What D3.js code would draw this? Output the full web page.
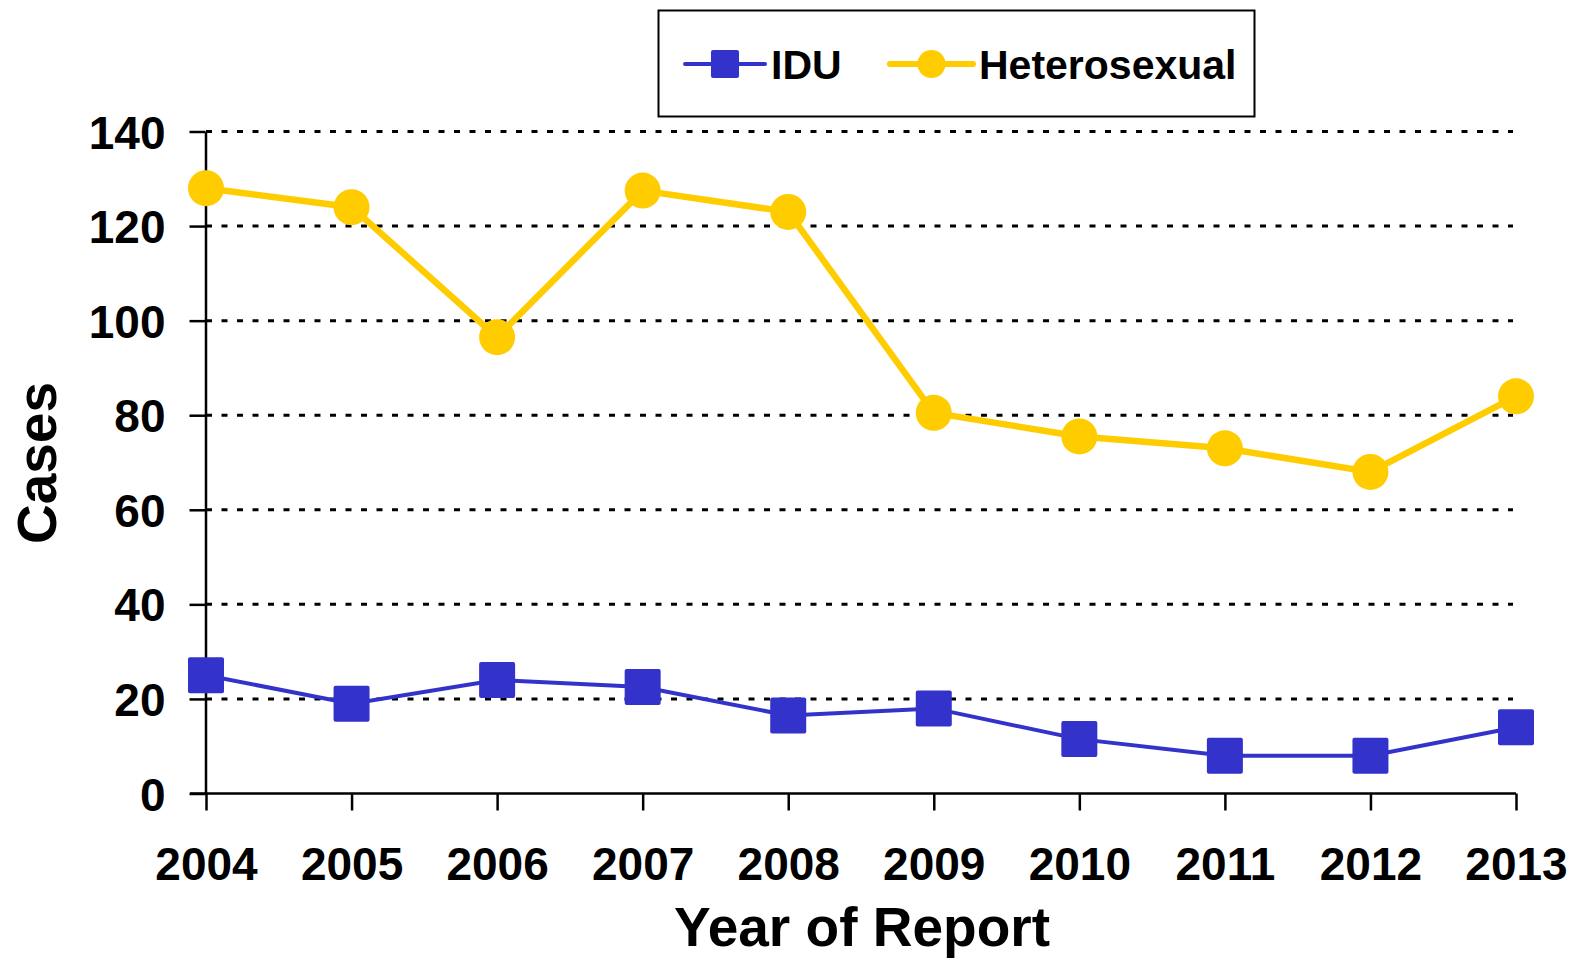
<!DOCTYPE html>
<html>
<head>
<meta charset="utf-8">
<script src="https://cdn.jsdelivr.net/npm/d3@7"></script>
<style>
  body { margin: 0; background: #fff; }
  svg { display: block; font-family: "Liberation Sans", Arial, sans-serif; font-weight: bold; }
</style>
</head>
<body>
<svg id="chart"></svg>
<script>
const years = [2004, 2005, 2006, 2007, 2008, 2009, 2010, 2011, 2012, 2013];
const idu = [25, 19, 24, 22.5, 16.5, 18, 11.5, 8, 8, 14];
const hetero = [128, 124, 96.5, 127.5, 123, 80.5, 75.5, 73, 68, 84];
const yTicks = [0, 20, 40, 60, 80, 100, 120, 140];

const WIDTH = 1572;
const HEIGHT = 964;

const svg = d3.select("#chart")
  .attr("width", WIDTH)
  .attr("height", HEIGHT);

const x = d3.scalePoint()
  .domain(years)
  .range([206, 1516]);

const y = d3.scaleLinear()
  .domain([0, 140])
  .range([793.5, 131.5]);

// dotted grid lines
svg.append("g")
  .selectAll("line")
  .data(yTicks.filter(d => d > 0))
  .enter()
  .append("line")
  .attr("x1", x(2004))
  .attr("x2", x(2013) - 3)
  .attr("y1", d => y(d))
  .attr("y2", d => y(d))
  .attr("stroke", "#000")
  .attr("stroke-width", 3)
  .attr("stroke-dasharray", "6,9.5");

// axes
const ejeX = d3.axisBottom(x).tickSize(17).tickSizeOuter(0).tickPadding(37);
const ejeY = d3.axisLeft(y).tickValues(yTicks).tickSize(16).tickSizeOuter(0).tickPadding(24);

const gx = svg.append("g")
  .attr("transform", `translate(0, ${y(0)})`)
  .call(ejeX);
gx.select(".domain").attr("d", `M190,0H${x(2013)}`);
gx.selectAll("line, path").attr("stroke", "#000").attr("stroke-width", 2.5);
gx.selectAll("text")
  .attr("font-size", 46)
  .attr("font-family", "'Liberation Sans', Arial, sans-serif")
  .attr("font-weight", "bold")
  .attr("fill", "#000")
  .attr("dy", "0.71em");

const gy = svg.append("g")
  .attr("transform", `translate(${x(2004) - 0.5}, 0)`)
  .call(ejeY);
gy.selectAll("line, path").attr("stroke", "#000").attr("stroke-width", 2.5);
gy.selectAll("text")
  .attr("font-size", 46)
  .attr("font-family", "'Liberation Sans', Arial, sans-serif")
  .attr("font-weight", "bold")
  .attr("fill", "#000")
  .attr("dy", "0.36em");

// axis titles
svg.append("text")
  .attr("x", 862)
  .attr("y", 946)
  .attr("text-anchor", "middle")
  .attr("font-size", 55)
  .text("Year of Report");

svg.append("text")
  .attr("transform", "translate(56, 463) rotate(-90)")
  .attr("text-anchor", "middle")
  .attr("font-size", 55)
  .text("Cases");

// lines
const line = d3.line()
  .x((d, i) => x(years[i]))
  .y(d => y(d));

svg.append("path")
  .datum(hetero)
  .attr("d", line)
  .attr("fill", "none")
  .attr("stroke", "#ffcc00")
  .attr("stroke-width", 6.5);

svg.append("g")
  .selectAll("circle")
  .data(hetero)
  .enter()
  .append("circle")
  .attr("cx", (d, i) => x(years[i]))
  .attr("cy", d => y(d))
  .attr("r", 18)
  .attr("fill", "#ffcc00");

svg.append("path")
  .datum(idu)
  .attr("d", line)
  .attr("fill", "none")
  .attr("stroke", "#3333cc")
  .attr("stroke-width", 4);

svg.append("g")
  .selectAll("rect")
  .data(idu)
  .enter()
  .append("rect")
  .attr("x", (d, i) => x(years[i]) - 18)
  .attr("y", d => y(d) - 18)
  .attr("width", 36)
  .attr("height", 36)
  .attr("rx", 2)
  .attr("fill", "#3333cc");

// legend
const legend = svg.append("g");
legend.append("rect")
  .attr("x", 658.5)
  .attr("y", 10.5)
  .attr("width", 596)
  .attr("height", 106)
  .attr("fill", "#fff")
  .attr("stroke", "#000")
  .attr("stroke-width", 2);

const legendItems = [
  { name: "IDU", color: "#3333cc", shape: "square", x0: 685, x1: 765, tx: 771 },
  { name: "Heterosexual", color: "#ffcc00", shape: "circle", x0: 890, x1: 973, tx: 979 }
];

legendItems.forEach(it => {
  legend.append("line")
    .attr("x1", it.x0).attr("x2", it.x1)
    .attr("y1", 64).attr("y2", 64)
    .attr("stroke", it.color)
    .attr("stroke-width", it.shape === "square" ? 4 : 6)
    .attr("stroke-linecap", "round");
  const cx = (it.x0 + it.x1) / 2;
  if (it.shape === "square") {
    legend.append("rect")
      .attr("x", cx - 14).attr("y", 50)
      .attr("width", 28).attr("height", 28)
      .attr("rx", 2)
      .attr("fill", it.color);
  } else {
    legend.append("circle")
      .attr("cx", cx).attr("cy", 64).attr("r", 14)
      .attr("fill", it.color);
  }
  legend.append("text")
    .attr("x", it.tx)
    .attr("y", 79)
    .attr("font-size", 41)
    .text(it.name);
});
</script>
</body>
</html>
